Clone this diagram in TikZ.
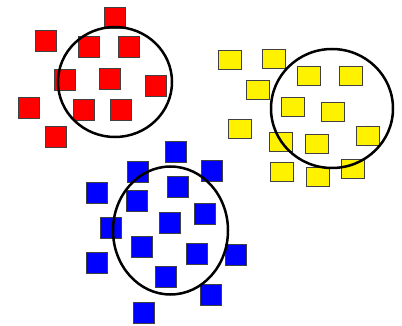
\documentclass[tikz,border=0pt]{standalone}
\usepackage{tikz}
\usetikzlibrary{positioning}

\begin{document}
\begin{tikzpicture}[
    x=1pt, y=-1pt,
    every node/.style={draw=black!75, line width=0.7pt, inner sep=0pt},
    rbox/.style={fill=red, minimum width=21pt, minimum height=21pt},
    bbox/.style={fill=blue, minimum width=21pt, minimum height=21pt},
    ybox/.style={fill=yellow, minimum width=23pt, minimum height=19.5pt},
    ring/.style={draw=black, line width=2.5pt},
]
\useasboundingbox (0,0) rectangle (402,326);

% red group
\node[rbox] (r1) at (115,18) {};
\node[rbox] (r2) at (46,41) {};
\node[rbox] (r3) at (89,47) {};
\node[rbox] (r4) at (129,47) {};
\node[rbox] (r5) at (65,80) {};
\node[rbox] (r6) at (110,79) {};
\node[rbox] (r7) at (156,86) {};
\node[rbox] (r8) at (29,108) {};
\node[rbox] (r9) at (84,110) {};
\node[rbox] (r10) at (121,110) {};
\node[rbox] (r11) at (56,137) {};

% yellow group
\node[ybox] (y1) at (230,60) {};
\node[ybox] (y2) at (274,59) {};
\node[ybox] (y3) at (309,76) {};
\node[ybox] (y4) at (351,76) {};
\node[ybox] (y5) at (258,90) {};
\node[ybox] (y6) at (293,107) {};
\node[ybox] (y7) at (333,112) {};
\node[ybox] (y8) at (240,129) {};
\node[ybox] (y9) at (281,142) {};
\node[ybox] (y10) at (317,144) {};
\node[ybox] (y11) at (368,136) {};
\node[ybox] (y12) at (282,172) {};
\node[ybox] (y13) at (318,177) {};
\node[ybox] (y14) at (353,169) {};

% blue group
\node[bbox] (b1) at (176,152) {};
\node[bbox] (b2) at (138,172) {};
\node[bbox] (b3) at (212,171) {};
\node[bbox] (b4) at (97,193) {};
\node[bbox] (b5) at (178,187) {};
\node[bbox] (b6) at (137,201) {};
\node[bbox] (b7) at (205,214) {};
\node[bbox] (b8) at (111,228) {};
\node[bbox] (b9) at (170,223) {};
\node[bbox] (b10) at (142,247) {};
\node[bbox] (b11) at (197,254) {};
\node[bbox] (b12) at (236,255) {};
\node[bbox] (b13) at (97,263) {};
\node[bbox] (b14) at (166,277) {};
\node[bbox] (b15) at (211,295) {};
\node[bbox] (b16) at (144,313) {};

% cluster rings
\draw[ring] (115,82) ellipse (57 and 55);
\draw[ring] (332,108.5) ellipse (61 and 59.5);
\draw[ring] (170.5,230.5) ellipse (57.5 and 64);

\end{tikzpicture}
\end{document}
